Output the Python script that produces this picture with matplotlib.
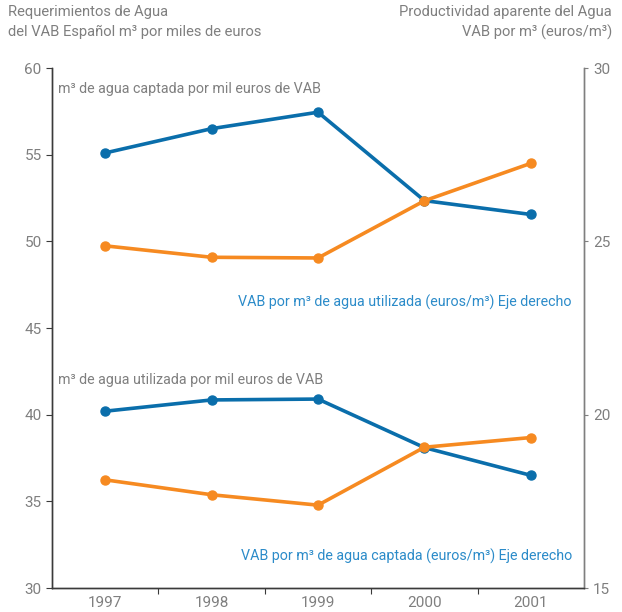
import numpy as np
import matplotlib
matplotlib.use("Agg")
import matplotlib.pyplot as plt

# datos
years = ["1997", "1998", "1999", "2000", "2001"]
captada_m3 = [55.1, 56.5, 57.45, 52.35, 51.55]      # eje izq
utilizada_m3 = [40.2, 40.85, 40.9, 38.1, 36.5]      # eje izq
vab_utilizada = [24.87, 24.54, 24.52, 26.17, 27.25]  # eje der
vab_captada = [18.12, 17.69, 17.39, 19.06, 19.34]    # eje der

blue = "#0a6eab"
orange = "#f68a21"
txt_blue = "#2b8bc9"
gray = "#7f7f7f"
dark = "#3a3a3a"

plt.rcParams['font.family'] = ['Roboto', 'DejaVu Sans']
plt.rcParams['font.size'] = 11

fig = plt.figure(figsize=(6.22, 6.12), dpi=100)
ax = fig.add_axes([52/622, 24/612, 532/622, 520/612])
ax2 = ax.twinx()

x = np.arange(len(years))
ax.plot(x, captada_m3, color=blue, lw=2.6, marker='o', ms=6.5, zorder=3)
ax.plot(x, utilizada_m3, color=blue, lw=2.6, marker='o', ms=6.5, zorder=3)
ax2.plot(x, vab_utilizada, color=orange, lw=2.6, marker='o', ms=6.5)
ax2.plot(x, vab_captada, color=orange, lw=2.6, marker='o', ms=6.5)

ax.set_xlim(-0.5, len(years) - 0.5)
ax.set_ylim(30, 60)
ax2.set_ylim(15, 30)
ax.set_yticks(np.arange(30, 61, 5))
ax2.set_yticks([15, 20, 25, 30])

ax.set_xticks(x)
ax.set_xticklabels(years)
ax.set_xticks(x[:-1] + 0.5, minor=True)
ax.tick_params(axis='x', which='major', length=0, pad=6, labelcolor=gray, labelsize=11)
ax.tick_params(axis='x', which='minor', length=4, color=dark, width=0.8)
ax.tick_params(axis='y', length=4, color=dark, width=0.8, labelcolor=gray, labelsize=11)
ax2.tick_params(axis='y', length=3, color=gray, width=0.8, labelcolor=gray, labelsize=11)

for a in (ax, ax2):
    a.spines['top'].set_visible(False)
    a.spines['left'].set_color(dark)
    a.spines['bottom'].set_color(dark)
    a.spines['right'].set_color(gray)
    for s in ('left', 'right', 'bottom'):
        a.spines[s].set_linewidth(1.0)

fs = 10.3
ax.text(0.011, 0.96, "m³ de agua captada por mil euros de VAB", transform=ax.transAxes,
        color=gray, fontsize=fs, ha='left', va='center')
ax.text(0.977, 0.55, "VAB por m³ de agua utilizada (euros/m³) Eje derecho", transform=ax.transAxes,
        color=txt_blue, fontsize=fs, ha='right', va='center')
ax.text(0.011, 0.40, "m³ de agua utilizada por mil euros de VAB", transform=ax.transAxes,
        color=gray, fontsize=fs, ha='left', va='center')
ax.text(0.977, 0.0615, "VAB por m³ de agua captada (euros/m³) Eje derecho", transform=ax.transAxes,
        color=txt_blue, fontsize=fs, ha='right', va='center')

fig.text(8/622, 1 - 5/612, "Requerimientos de Agua\ndel VAB Español m³ por miles de euros",
         color=gray, fontsize=10.6, ha='left', va='top', linespacing=1.5)
fig.text(612/622, 1 - 5/612, "Productividad aparente del Agua\nVAB por m³ (euros/m³)",
         color=gray, fontsize=10.6, ha='right', va='top', linespacing=1.5, multialignment='right')

fig.savefig("out.png", dpi=100)
